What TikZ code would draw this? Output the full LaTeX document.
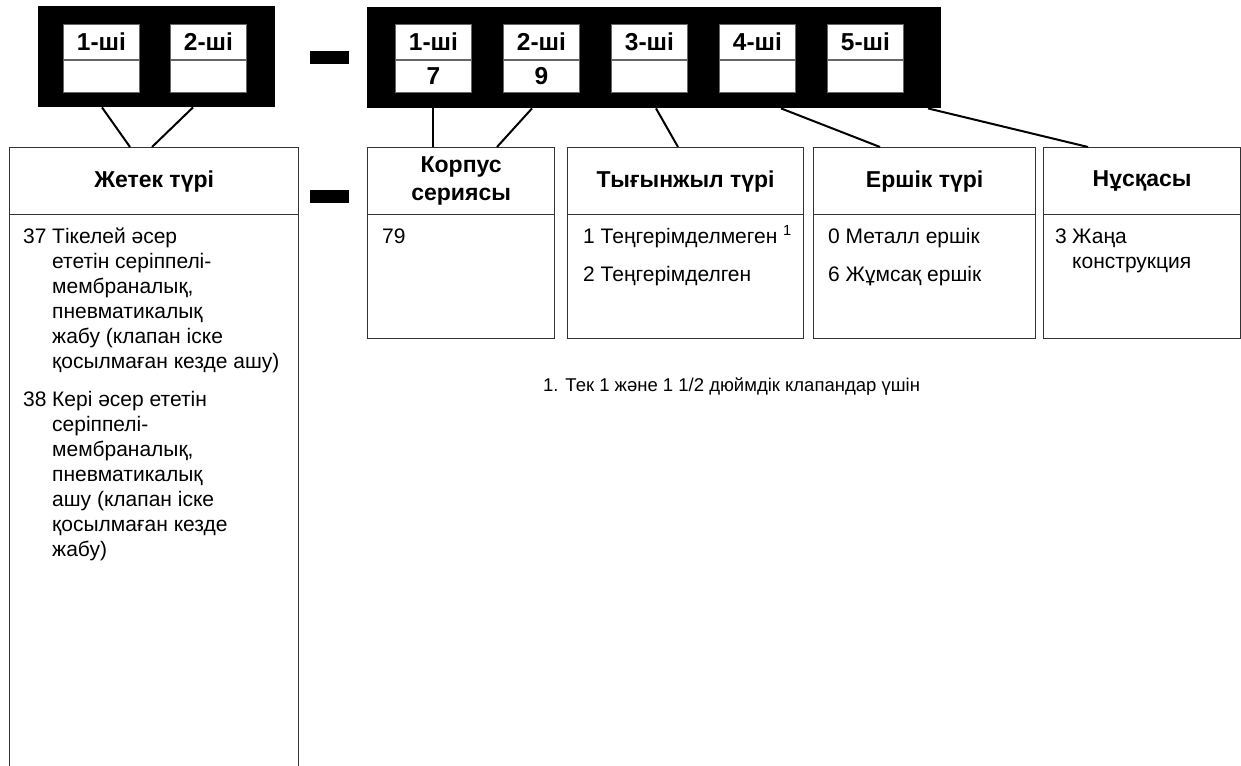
\documentclass[tikz,border=0pt]{standalone}
\usepackage{fontspec}
\setmainfont{Liberation Sans}
\usetikzlibrary{positioning}

\begin{document}
\begin{tikzpicture}[
    x=1pt, y=-1pt,
    blk/.style={rectangle, fill=black, inner sep=0, anchor=north west},
    cellhd/.style={rectangle, draw=black!60, line width=0.9pt, fill=white, inner sep=0, minimum width=76, minimum height=35, anchor=north west, font=\bfseries\fontsize{24.5}{26}\selectfont},
    cellval/.style={cellhd, minimum height=32},
    dashbar/.style={rectangle, fill=black, inner sep=0, minimum width=39, minimum height=13, anchor=north west},
    hdbox/.style={rectangle, draw=black!80, line width=1.3pt, inner sep=0, minimum height=67, anchor=north west, align=center, font=\bfseries\fontsize{23}{28}\selectfont},
    bodybox/.style={rectangle, draw=black!80, line width=1.3pt, inner sep=0, anchor=north west},
    item/.style={inner sep=0, anchor=base west, align=left, font=\fontsize{21}{25}\selectfont},
    link/.style={line width=2pt, black},
    note/.style={inner sep=0, anchor=base west, font=\fontsize{18.5}{20}\selectfont}
]
\useasboundingbox[fill=white] (0,0) rectangle (1241,765);

% Code blocks
\node[blk, minimum width=237, minimum height=101] (blkL) at (38,6) {};
\node[blk, minimum width=574, minimum height=101] (blkR) at (367,7) {};

\node[cellhd] (lh1) at (63,24) {1-ші};
\node[cellval, below=0pt of lh1] (lv1) {};
\node[cellhd] (lh2) at (170,24) {2-ші};
\node[cellval, below=0pt of lh2] (lv2) {};

\node[cellhd] (rh1) at (395,24) {1-ші};
\node[cellval, below=0pt of rh1] (rv1) {7};
\node[cellhd] (rh2) at (503,24) {2-ші};
\node[cellval, below=0pt of rh2] (rv2) {9};
\node[cellhd] (rh3) at (611,24) {3-ші};
\node[cellval, below=0pt of rh3] (rv3) {};
\node[cellhd] (rh4) at (719,24) {4-ші};
\node[cellval, below=0pt of rh4] (rv4) {};
\node[cellhd] (rh5) at (827,24) {5-ші};
\node[cellval, below=0pt of rh5] (rv5) {};

% Dashes
\node[dashbar] (dashtop) at (310,51) {};
\node[dashbar] (dashbot) at (310,190) {};

% Field headers
\node[hdbox, minimum width=289] (jetek) at (9,147) {Жетек түрі};
\node[hdbox, minimum width=187] (korpus) at (367,147) {Корпус\\сериясы};
\node[hdbox, minimum width=236] (tygyn) at (567,147) {Тығынжыл түрі};
\node[hdbox, minimum width=222] (ershik) at (813,147) {Ершік түрі};
\node[hdbox, minimum width=197] (nuska) at (1043,147) {Нұсқасы};

% Field bodies
\node[bodybox, minimum width=289, minimum height=560] (jetekb) at (9,214) {};
\node[bodybox, minimum width=187, minimum height=124] (korpusb) at (367,214) {};
\node[bodybox, minimum width=236, minimum height=124] (tygynb) at (567,214) {};
\node[bodybox, minimum width=222, minimum height=124] (ershikb) at (813,214) {};
\node[bodybox, minimum width=197, minimum height=124] (nuskab) at (1043,214) {};

% Options (multi-line texts sit on their last baseline)
\node[item] (n37) at (23,243) {37};
\node[item] (t37) at (52,368) {Тікелей әсер\\ететін серіппелі-\\мембраналық,\\пневматикалық\\жабу (клапан іске\\қосылмаған кезде ашу)};
\node[item] (n38) at (23,406) {38};
\node[item] (t38) at (52,556) {Кері әсер ететін\\серіппелі-\\мембраналық,\\пневматикалық\\ашу (клапан іске\\қосылмаған кезде\\жабу)};

\node[item] (n79) at (382,243) {79};

\node[item] (opt1) at (583,243) {1 Теңгерімделмеген \textsuperscript{1}};
\node[item] (opt2) at (583,281) {2 Теңгерімделген};

\node[item] (opt0) at (828,243) {0 Металл ершік};
\node[item] (opt6) at (828,281) {6 Жұмсақ ершік};

\node[item] (n3) at (1055,243) {3};
\node[item] (t3) at (1072,268) {Жаңа\\конструкция};

% Footnote
\node[note] (fn) at (543,391) {1. Тек 1 және 1 1/2 дюймдік клапандар үшін};

% Connectors
\draw[link] ([xshift=64]blkL.south west) -- ([xshift=121]jetek.north west);
\draw[link] ([xshift=155]blkL.south west) -- ([xshift=143]jetek.north west);
\draw[link] (rv1.south |- blkR.south) -- (rv1.south |- korpus.north);
\draw[link] ([xshift=165]blkR.south west) -- ([xshift=130]korpus.north west);
\draw[link] ([xshift=289]blkR.south west) -- ([xshift=111]tygyn.north west);
\draw[link] ([xshift=414]blkR.south west) -- ([xshift=67]ershik.north west);
\draw[link] ([xshift=561]blkR.south west) -- ([xshift=45]nuska.north west);

\end{tikzpicture}
\end{document}
